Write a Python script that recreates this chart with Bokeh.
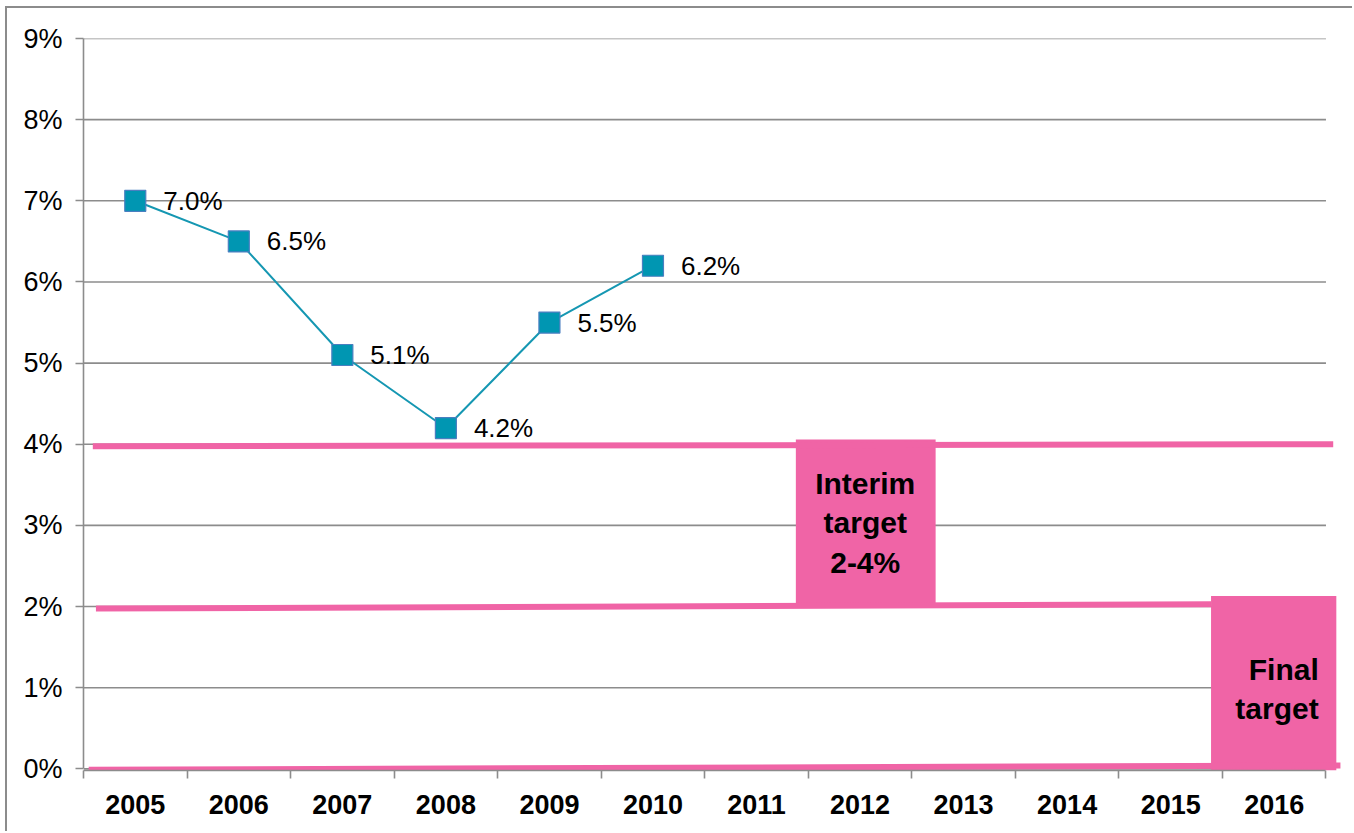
from bokeh.plotting import figure
from bokeh.models import FixedTicker, Range1d, ColumnDataSource
from bokeh.embed import file_html
from bokeh.resources import INLINE
from bokeh.core.properties import value

# ---- data ----
years = ["2005", "2006", "2007", "2008", "2009", "2010",
         "2011", "2012", "2013", "2014", "2015", "2016"]
rate_years = ["2005", "2006", "2007", "2008", "2009", "2010"]
rates = [7.0, 6.5, 5.1, 4.2, 5.5, 6.2]
rate_labels = ["7.0%", "6.5%", "5.1%", "4.2%", "5.5%", "6.2%"]
y_ticks = [0, 1, 2, 3, 4, 5, 6, 7, 8, 9]

# target band lines (hand-drawn shapes in the original, slightly sloped)
band_x0 = [0.09, 0.12, 0.05]
band_x1 = [12.07, 10.89, 12.14]
band_y0 = [3.975, 1.975, -0.012]
band_y1 = [4.0, 2.03, 0.043]

# target boxes
box_left = [6.88, 10.89]
box_right = [8.23, 12.10]
box_bottom = [2.02, -0.02]
box_top = [4.06, 2.13]

PINK = "#F064A6"
GRAY = "#8C8C8C"
FONT = "Liberation Sans"

n = len(years)
centers = [i + 0.5 for i in range(n)]
xpos = [years.index(y) + 0.5 for y in rate_years]

p = figure(width=1347, height=825, output_backend="svg", toolbar_location=None,
           x_range=Range1d(0, 12.15), y_range=Range1d(-0.02, 9.0),
           min_border_left=76, min_border_right=13, min_border_top=30,
           min_border_bottom=63)
p.outline_line_color = None
p.xgrid.visible = False
p.ygrid.visible = False
p.background_fill_color = "white"
p.border_fill_color = "white"
p.styles = {"margin-left": "5px", "margin-top": "6px",
            "border-left": "2px solid #8c8c8c", "border-top": "2px solid #8c8c8c"}

# gridlines
p.segment(x0=[0] * len(y_ticks), x1=[n] * len(y_ticks), y0=y_ticks, y1=y_ticks,
          line_color=GRAY, line_width=1.6)

# target boxes and band lines
p.quad(left=box_left, right=box_right, bottom=box_bottom, top=box_top,
       fill_color=PINK, line_color=None)
p.segment(x0=band_x0, x1=band_x1, y0=band_y0, y1=band_y1,
          line_color=PINK, line_width=6)

# series
src = ColumnDataSource(dict(x=xpos, y=rates, lab=rate_labels))
p.line("x", "y", source=src, line_color="#1597B2", line_width=2)
p.scatter("x", "y", source=src, marker="square", size=21,
          fill_color="#0096B2", line_color="#4A7FC0", line_width=1.2)
p.text("x", "y", text="lab", source=src, x_offset=28,
       text_align="left", text_baseline="middle",
       text_font=value(FONT), text_font_size="26px", text_color="black")

# box texts
p.text(x=[7.55], y=[3.03], text=["Interim\ntarget\n2-4%"],
       text_align="center", text_baseline="middle", text_line_height=1.2,
       text_font=value(FONT), text_font_size="30px", text_font_style="bold",
       text_color="black")
p.text(x=[11.93], y=[0.985], text=["Final\ntarget"],
       text_align="right", text_baseline="middle", text_line_height=1.2,
       text_font=value(FONT), text_font_size="30px", text_font_style="bold",
       text_color="black")

# x axis
xa = p.xaxis[0]
xa.bounds = (0, n)
xa.ticker = FixedTicker(ticks=centers, minor_ticks=list(range(n + 1)))
xa.major_label_overrides = {c: y for c, y in zip(centers, years)}
xa.major_tick_out = 0
xa.major_tick_in = 0
xa.minor_tick_out = 8
xa.minor_tick_in = 0
xa.minor_tick_line_color = GRAY
xa.minor_tick_line_width = 1.6
xa.axis_line_color = GRAY
xa.axis_line_width = 1.6
xa.major_label_standoff = 16
xa.major_label_text_font = FONT
xa.major_label_text_font_size = "27px"
xa.major_label_text_font_style = "bold"
xa.major_label_text_color = "black"

# y axis
ya = p.yaxis[0]
ya.bounds = (0, 9)
ya.ticker = FixedTicker(ticks=y_ticks, minor_ticks=[])
ya.major_label_overrides = {t: f"{t}%" for t in y_ticks}
ya.major_tick_out = 8
ya.major_tick_in = 0
ya.major_tick_line_color = GRAY
ya.major_tick_line_width = 1.6
ya.axis_line_color = GRAY
ya.axis_line_width = 1.6
ya.major_label_standoff = 13
ya.major_label_text_font = FONT
ya.major_label_text_font_size = "27px"
ya.major_label_text_color = "black"

open("out.html", "w").write(file_html(p, INLINE))
